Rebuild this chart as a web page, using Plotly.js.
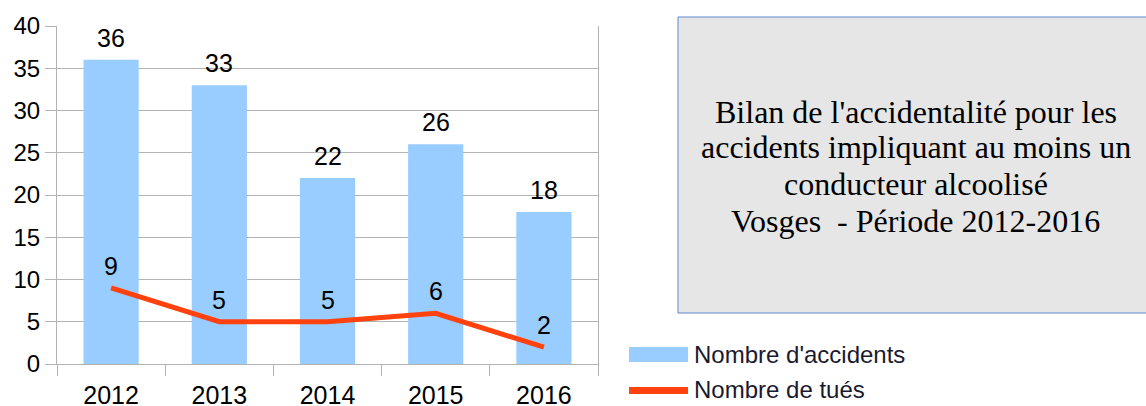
<!DOCTYPE html>
<html>
<head>
<meta charset="utf-8">
<script src="https://cdn.plot.ly/plotly-3.0.1.min.js"></script>
<style>html,body{margin:0;padding:0;background:#fff;}#chart{width:1146px;height:406px;}</style>
</head>
<body>
<div id="chart"></div>
<script>
var years = ["2012", "2013", "2014", "2015", "2016"];
var accidents = [36, 33, 22, 26, 18];
var tues = [9, 5, 5, 6, 2];
var seriesNames = ["Nombre d'accidents", "Nombre de tués"];
var boxLines = [
  "Bilan de l'accidentalité pour les",
  "accidents impliquant au moins un",
  "conducteur alcoolisé",
  "Vosges  - Période 2012-2016"
];

var W = 1146, H = 406;
var M = {l: 57, r: 548, t: 26, b: 42};
var pw = W - M.l - M.r, ph = H - M.t - M.b;
function px(x) { return (x - M.l) / pw; }
function py(y) { return (H - M.b - y) / ph; }

var barColor = "#99ccff";
var lineColor = "#ff420e";
var gridColor = "#b3b3b3";
var labelFont = {family: "Liberation Sans, Arial, sans-serif", size: 25, color: "#000"};

var traces = [
  {type: "bar", x: years, y: accidents, name: seriesNames[0], marker: {color: barColor}, hoverinfo: "none", showlegend: false},
  {type: "scatter", mode: "lines", x: years, y: tues, name: seriesNames[1], line: {color: lineColor, width: 5}, hoverinfo: "none", showlegend: false}
];

var annotations = [];
years.forEach(function (yr, i) {
  annotations.push({x: i, y: accidents[i], xref: "x", yref: "y", text: String(accidents[i]), showarrow: false, yanchor: "bottom", yshift: 6, font: labelFont});
  annotations.push({x: i, y: tues[i], xref: "x", yref: "y", text: String(tues[i]), showarrow: false, yanchor: "bottom", yshift: 6, font: labelFont});
});

var lineCenters = [112, 147, 184, 221];
boxLines.forEach(function (t, i) {
  annotations.push({xref: "paper", yref: "paper", x: px(916), y: py(lineCenters[i]), text: t, showarrow: false, xanchor: "center", yanchor: "middle",
    font: {family: "Liberation Serif, Times New Roman, serif", size: 32, color: "#000"}});
});

var legendFont = {family: "Liberation Sans, Arial, sans-serif", size: 24, color: "#1a1a2e"};
annotations.push({xref: "paper", yref: "paper", x: px(692), y: py(354), text: seriesNames[0], showarrow: false, xanchor: "left", yanchor: "middle", font: legendFont});
annotations.push({xref: "paper", yref: "paper", x: px(692), y: py(389), text: seriesNames[1], showarrow: false, xanchor: "left", yanchor: "middle", font: legendFont});

var shapes = [
  {type: "rect", xref: "paper", yref: "paper", x0: px(678), x1: px(1152), y0: py(313), y1: py(17), fillcolor: "#e6e6e6", line: {color: "#5b8bd0", width: 1}, layer: "below"},
  {type: "rect", xref: "paper", yref: "paper", x0: px(629), x1: px(688), y0: py(362), y1: py(347), fillcolor: barColor, line: {width: 0}},
  {type: "rect", xref: "paper", yref: "paper", x0: px(629), x1: px(688), y0: py(394), y1: py(387), fillcolor: lineColor, line: {width: 0}}
];

var layout = {
  width: W, height: H,
  margin: M,
  paper_bgcolor: "#fff", plot_bgcolor: "#fff",
  bargap: 0.49,
  showlegend: false,
  xaxis: {
    type: "category",
    range: [-0.5, years.length - 0.5],
    showgrid: false,
    showline: true, linecolor: gridColor, linewidth: 1,
    ticks: "outside", tickson: "boundaries", ticklen: 11, tickcolor: gridColor, tickwidth: 1,
    tickfont: {family: "Liberation Sans, Arial, sans-serif", size: 25, color: "#000"},
    ticklabelstandoff: 9,
    tickangle: 0,
    fixedrange: true
  },
  yaxis: {
    range: [0, 40], dtick: 5, tick0: 0,
    showgrid: true, gridcolor: gridColor, gridwidth: 1,
    showline: true, linecolor: gridColor, linewidth: 1, mirror: true,
    ticks: "outside", ticklen: 11, tickcolor: gridColor, tickwidth: 1,
    tickfont: {family: "Liberation Sans, Arial, sans-serif", size: 24, color: "#000"},
    zeroline: false,
    fixedrange: true
  },
  annotations: annotations,
  shapes: shapes
};

Plotly.newPlot("chart", traces, layout, {displayModeBar: false, staticPlot: true});
</script>
</body>
</html>
